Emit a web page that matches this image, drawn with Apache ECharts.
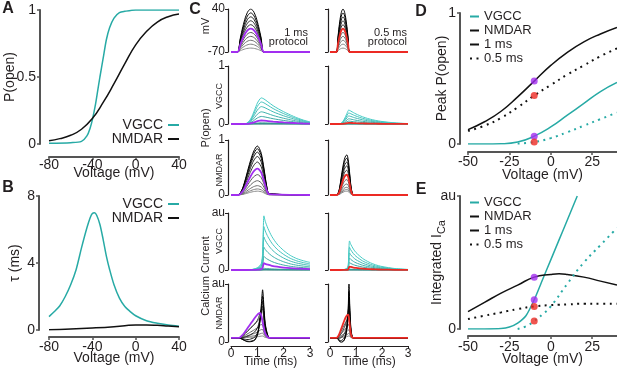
<!DOCTYPE html>
<html>
<head>
<meta charset="utf-8">
<script src="https://cdn.jsdelivr.net/npm/echarts@6/dist/echarts.min.js"></script>
<style>
  html, body { margin: 0; padding: 0; background: #fff; }
  #main { width: 617px; height: 371px; }
</style>
</head>
<body>
<div id="main"></div>
<script>
// ---------- A: steady state open probability ----------
var voltA_vgcc  = [-80,-60,-50,-45,-42,-40,-37,-35,-33,-30,-27,-24,-20,-15,-10,0,20,40];
var popenVgcc   = [0.005,0.01,0.02,0.06,0.12,0.18,0.3,0.4,0.5,0.64,0.78,0.87,0.94,0.98,0.99,1,1,1];
var voltA_nmdar = [-80,-70,-60,-50,-40,-30,-20,-10,0,10,20,30,40];
var popenNmdar  = [0.025,0.04,0.065,0.11,0.19,0.31,0.45,0.6,0.74,0.84,0.91,0.95,0.97];

// ---------- B: time constants ----------
var voltB_vgcc  = [-80,-75,-70,-65,-60,-55,-50,-45,-42,-40,-38,-36,-33,-30,-27,-24,-20,-15,-10,-5,0,10,20,30,40];
var tauVgcc     = [0.8,1.1,1.45,2.0,2.7,3.6,4.9,6.1,6.7,6.95,7.0,6.85,6.3,5.4,4.4,3.6,2.7,1.9,1.4,1.1,0.85,0.55,0.4,0.3,0.23];
var voltB_nmdar = [-80,-60,-40,-20,-10,0,10,20,30,40];
var tauNmdar    = [0.02,0.06,0.12,0.2,0.26,0.3,0.3,0.28,0.24,0.2];

// ---------- C: traces for the voltage steps ----------
var vSteps = [-60,-50,-40,-30,-20,-10,0,10,20,30,40];
var HI = 5; // the -10 mV step is drawn in colour

// voltage pulse shape (fraction of step amplitude)
var tV1     = [0,0.25,0.35,0.45,0.55,0.65,0.75,0.85,0.95,1.05,1.15,1.25,3];
var tV05    = [0,0.25,0.3,0.35,0.4,0.45,0.5,0.55,0.6,0.65,0.7,0.75,3];
var shapeV  = [0,0,0.31,0.59,0.81,0.95,1,0.95,0.81,0.59,0.31,0,0];

// VGCC P(open)
var tG1     = [0,0.5,0.6,0.7,0.8,0.9,1.0,1.1,1.15,1.25,1.4,1.6,1.8,2.0,2.25,2.5,2.75,3];
var shapeG1 = [0,0,0.03,0.12,0.3,0.55,0.8,0.96,1,0.96,0.85,0.7,0.58,0.47,0.35,0.24,0.15,0.08];
var ampG1   = [0,0,0.002,0.006,0.02,0.06,0.13,0.21,0.3,0.38,0.45];
var tG05    = [0,0.35,0.45,0.55,0.65,0.72,0.8,0.9,1.0,1.25,1.5,1.75,2.0,2.5,3];
var shapeG05= [0,0,0.08,0.35,0.75,1,0.93,0.82,0.72,0.52,0.37,0.26,0.18,0.08,0.03];
var ampG05  = [0,0,0,0.002,0.006,0.02,0.05,0.09,0.14,0.19,0.24];

// NMDAR P(open)
var tN1     = [0,0.25,0.35,0.45,0.55,0.65,0.75,0.85,0.95,1.0,1.05,1.15,1.25,1.35,1.45,3];
var shapeN1 = [0,0,0.04,0.15,0.33,0.53,0.72,0.88,0.98,1,0.98,0.85,0.55,0.2,0.03,0];
var ampN1   = [0.07,0.11,0.17,0.26,0.37,0.48,0.6,0.7,0.78,0.84,0.89];
var tN05    = [0,0.25,0.3,0.35,0.4,0.45,0.5,0.55,0.6,0.65,0.7,0.75,0.8,0.85,0.9,3];
var shapeN05= [0,0,0.03,0.12,0.3,0.52,0.72,0.88,0.97,1,0.88,0.58,0.25,0.06,0,0];
var ampN05  = [0.07,0.1,0.14,0.2,0.28,0.37,0.45,0.53,0.6,0.67,0.73];

// VGCC calcium current
var tI1     = [0,0.6,0.8,0.95,1.05,1.15,1.2,1.25,1.3,1.4,1.55,1.75,2.0,2.25,2.5,2.75,3];
var shapeI1 = [0,0,0.01,0.03,0.06,0.12,0.3,1,0.9,0.77,0.62,0.48,0.36,0.27,0.21,0.17,0.14];
var ampI1   = [0,0,0.003,0.01,0.03,0.12,0.24,0.4,0.58,0.76,0.95];
var tI05    = [0,0.4,0.55,0.65,0.7,0.75,0.8,0.9,1.0,1.25,1.5,1.75,2.0,2.5,3];
var shapeI05= [0,0,0.02,0.06,0.15,1,0.88,0.72,0.6,0.4,0.27,0.18,0.12,0.05,0.02];
var ampI05  = [0,0,0,0.004,0.015,0.06,0.13,0.21,0.3,0.4,0.51];

// NMDAR calcium current: slow component, dip and tail spike
var baseC   = 0.07;
var tC1     = [0,0.3,0.4,0.5,0.6,0.7,0.8,0.9,1.0,1.05,1.1,1.15,1.2,1.25,1.3,1.4,1.5,3];
var ramp1   = [0,0,0.08,0.2,0.35,0.5,0.65,0.8,0.93,0.98,1,0.9,0.65,0.38,0.18,0.03,0,0];
var dip1    = [0,0,0.25,0.6,0.9,1,0.85,0.55,0.2,0.05,0,0,0,0,0,0,0,0];
var spike1  = [0,0,0,0,0,0,0,0,0.08,0.2,0.4,0.68,1,0.65,0.3,0.05,0,0];
var rampAmp1  = [0.02,0.05,0.1,0.18,0.3,0.43,0.3,0.15,0.05,0,0];
var dipAmp1   = [0,0,0,0,0,0,0,0.03,0.05,0.06,0.07];
var spikeAmp1 = [0.02,0.05,0.08,0.1,0.1,0,0.3,0.45,0.6,0.72,0.83];
var tC05    = [0,0.25,0.3,0.35,0.4,0.45,0.5,0.55,0.6,0.65,0.7,0.73,0.76,0.8,0.85,0.9,3];
var ramp05  = [0,0,0.05,0.15,0.3,0.45,0.6,0.75,0.88,0.97,1,0.85,0.55,0.2,0.03,0,0];
var dip05   = [0,0,0.2,0.6,0.95,1,0.8,0.45,0.15,0,0,0,0,0,0,0,0];
var spike05 = [0,0,0,0,0,0,0,0,0.05,0.2,0.55,1,0.6,0.2,0.03,0,0];
var rampAmp05  = [0.02,0.05,0.1,0.18,0.3,0.4,0.25,0.12,0.04,0,0];
var dipAmp05   = [0,0,0,0,0,0,0.02,0.04,0.06,0.07,0.08];
var spikeAmp05 = [0.02,0.04,0.06,0.08,0.08,0,0.35,0.5,0.65,0.8,0.93];

// ---------- D: peak open probability ----------
var voltD       = [-50,-40,-30,-20,-10,0,10,20,30,40];
var peakNmdar1  = [0.11,0.17,0.25,0.36,0.48,0.6,0.7,0.78,0.84,0.89];
var peakNmdar05 = [0.1,0.14,0.2,0.28,0.37,0.45,0.53,0.6,0.67,0.73];
var peakVgcc1   = [0,0,0.002,0.015,0.06,0.13,0.22,0.31,0.4,0.47];
var voltD05     = [-20,-10,0,10,20,30,40];
var peakVgcc05  = [0.003,0.015,0.045,0.09,0.14,0.19,0.24];
var dotsD1  = [[-10,0.48],[-10,0.06]];
var dotsD05 = [[-10,0.37],[-10,0.015]];

// ---------- E: integrated calcium current ----------
var voltE_vgcc1 = [-50,-40,-30,-25,-20,-15,-10,-5,0,5,10,16];
var intVgcc1    = [0,0,0.003,0.015,0.045,0.1,0.22,0.37,0.52,0.67,0.82,1.0];
var voltE       = [-50,-40,-30,-20,-10,0,5,10,20,30,40];
var intNmdar1   = [0.13,0.2,0.27,0.33,0.39,0.41,0.415,0.41,0.39,0.36,0.33];
var intNmdar05  = [0.075,0.1,0.125,0.15,0.17,0.18,0.183,0.185,0.19,0.19,0.19];
var voltE_vgcc05= [-20,-15,-10,-5,0,10,20,30,40];
var intVgcc05   = [0,0.02,0.06,0.11,0.17,0.34,0.5,0.63,0.76];
var dotsE1  = [[-10,0.39],[-10,0.22]];
var dotsE05 = [[-10,0.17],[-10,0.06]];

// ---------- styling ----------
var TEAL = '#27aaa5', PURPLE = '#a22ef0', RED = '#ec2a24', INK = '#231f20', AX = '#555555';
var FONT = 'Liberation Sans';
var DOT = [2, 4.5];

var chart = echarts.init(document.getElementById('main'));
var grids = [], xAxes = [], yAxes = [], series = [];

function zip(xs, ys) { return xs.map(function (x, i) { return [x, ys[i]]; }); }
function mix(c1, c2, f) {
  var a = [1,3,5].map(function (k) { return parseInt(c1.substr(k, 2), 16); });
  var b = [1,3,5].map(function (k) { return parseInt(c2.substr(k, 2), 16); });
  return 'rgb(' + a.map(function (v, i) { return Math.round(v + (b[i] - v) * f); }).join(',') + ')';
}
function grayRamp(i) { return mix('#8c8c8c', '#000000', i / 10); }
function tealRamp(i) { return mix('#2e7674', '#46cbc5', i / 10); }

function bigAxes(g, xo) {
  grids.push({ left: g.left, top: g.top, width: g.width, height: g.height, containLabel: false, outerBoundsMode: 'none' });
  var gi = grids.length - 1;
  xAxes.push({
    gridIndex: gi, type: 'value', min: xo.min, max: xo.max, interval: xo.interval, offset: xo.offset,
    axisLine: { show: true, onZero: false, lineStyle: { color: AX, width: 2 } },
    axisTick: { show: true, length: 3, lineStyle: { color: AX, width: 1.5 }, customValues: xo.ticks },
    axisLabel: { color: INK, fontSize: 14, fontFamily: FONT, margin: xo.margin, customValues: xo.ticks },
    splitLine: { show: false },
    name: 'Voltage (mV)', nameLocation: 'middle', nameGap: xo.nameGap, nameMoveOverlap: false,
    nameTextStyle: { color: INK, fontSize: 14, fontFamily: FONT }
  });
  yAxes.push({
    gridIndex: gi, type: 'value', min: g.ymin, max: g.ymax, interval: g.yint, offset: g.yoff,
    axisLine: { show: true, onZero: false, lineStyle: { color: AX, width: 2 } },
    axisTick: { show: true, length: 3, lineStyle: { color: AX, width: 1.5 } },
    axisLabel: { color: INK, fontSize: 14, fontFamily: FONT, margin: 4, formatter: g.fmt },
    splitLine: { show: false },
    name: g.yname, nameLocation: 'middle', nameGap: g.ynameGap, nameMoveOverlap: false,
    nameTextStyle: { color: INK, fontSize: 14, fontFamily: FONT, rich: g.rich }
  });
  return gi;
}

function line(gi, name, data, color, dashed, smooth) {
  series.push({
    type: 'line', name: name, xAxisIndex: gi, yAxisIndex: gi, data: data, symbol: 'none',
    smooth: smooth === undefined ? true : smooth, silent: true,
    lineStyle: { color: color, width: dashed ? 2 : 1.5, type: dashed ? DOT : 'solid' },
    itemStyle: { color: color }
  });
}
function dots(gi, data, color) {
  series.push({
    type: 'scatter', xAxisIndex: gi, yAxisIndex: gi, data: data, symbolSize: 7,
    itemStyle: { color: color }, silent: true, z: 5
  });
}

// A
var gA = bigAxes({ left: 49, top: 10, width: 130, height: 134, ymin: 0, ymax: 1, yint: 0.5, yoff: 9,
                   yname: 'P(open)', ynameGap: 23 },
                 { min: -80, max: 40, interval: 40, offset: 13, margin: 1, nameGap: 9 });
line(gA, 'VGCC', zip(voltA_vgcc, popenVgcc), TEAL, false, 0.3);
line(gA, 'NMDAR', zip(voltA_nmdar, popenNmdar), '#111', false);

// B
var gB = bigAxes({ left: 49, top: 196, width: 130, height: 134, ymin: 0, ymax: 8, yint: 4, yoff: 10,
                   yname: 'τ (ms)', ynameGap: 17 },
                 { min: -80, max: 40, interval: 40, offset: 7, margin: 3, nameGap: 14 });
line(gB, 'VGCC', zip(voltB_vgcc, tauVgcc), TEAL, false, 0.3);
line(gB, 'NMDAR', zip(voltB_nmdar, tauNmdar), '#111', false);

// D
var gD = bigAxes({ left: 468, top: 13, width: 149, height: 131, ymin: 0, ymax: 1, yint: 1, yoff: 8,
                   yname: 'Peak P(open)', ynameGap: 11 },
                 { min: -50, max: 40, interval: 25, offset: 8, margin: 3, nameGap: 16, ticks: [-50,-25,0,25] });
line(gD, 'NMDAR', zip(voltD, peakNmdar1), '#111', false);
line(gD, '0.5 ms', zip(voltD, peakNmdar05), '#111', true);
line(gD, 'VGCC', zip(voltD, peakVgcc1), TEAL, false);
line(gD, 'VGCC 0.5', zip(voltD05, peakVgcc05), TEAL, true);
line(gD, '1 ms', [], '#111', false);
dots(gD, dotsD1, PURPLE);
dots(gD, dotsD05, RED);

// E
var gE = bigAxes({ left: 468, top: 196, width: 149, height: 133, ymin: 0, ymax: 1, yint: 1, yoff: 8,
                   yname: 'Integrated I{s|Ca}', ynameGap: 13,
                   fmt: function (v) { return v === 1 ? 'au' : '0'; },
                   rich: { s: { fontSize: 11, fontFamily: FONT, color: INK, verticalAlign: 'bottom', padding: [9, 0, 0, 0] } } },
                 { min: -50, max: 40, interval: 25, offset: 7, margin: 4, nameGap: 16, ticks: [-50,-25,0,25] });
line(gE, 'VGCC E', zip(voltE_vgcc1, intVgcc1), TEAL, false, 0.2);
line(gE, 'NMDAR E', zip(voltE, intNmdar1), '#111', false);
line(gE, 'NMDAR E 0.5', zip(voltE, intNmdar05), '#111', true);
line(gE, 'VGCC E 0.5', zip(voltE_vgcc05, intVgcc05), TEAL, true);
dots(gE, dotsE1, PURPLE);
dots(gE, dotsE05, RED);

// C grids: 5 rows x 2 columns
var rowsC = [[9, 43, -70, 40, 110], [66, 58, 0, 1, 1], [140, 55, 0, 1, 1], [213, 57, 0, 1, 1], [284, 58, 0, 1, 1]];
var colsC = [[231, 79, 3], [330, 78, 2]];
var gC = [[], []];
colsC.forEach(function (col, ci) {
  rowsC.forEach(function (row, ri) {
    grids.push({ left: col[0], top: row[0], width: col[1], height: row[1], containLabel: false, outerBoundsMode: 'none' });
    var gi = grids.length - 1;
    gC[ci].push(gi);
    var last = ri === 4;
    xAxes.push({
      gridIndex: gi, type: 'value', min: 0, max: 3, interval: 1, show: last, offset: 4,
      axisLine: { show: true, onZero: false, lineStyle: { color: INK, width: 1.2 } },
      axisTick: { show: true, length: 3, lineStyle: { color: INK, width: 1 } },
      axisLabel: { color: INK, fontSize: 12, fontFamily: FONT, margin: 2 },
      splitLine: { show: false },
      name: 'Time (ms)', nameLocation: 'middle', nameGap: 10, nameMoveOverlap: false,
      nameTextStyle: { color: INK, fontSize: 12, fontFamily: FONT }
    });
    yAxes.push({
      gridIndex: gi, type: 'value', min: row[2], max: row[3], interval: row[4], offset: col[2],
      axisLine: { show: true, onZero: false, lineStyle: { color: INK, width: 1.2 } },
      axisTick: { show: true, length: 3, lineStyle: { color: INK, width: 1 } },
      axisLabel: { show: ci === 0, color: INK, fontSize: 12, fontFamily: FONT, margin: 3,
                   formatter: ri >= 3 ? function (v) { return v === 1 ? 'au' : '0'; } : null },
      splitLine: { show: false }
    });
  });
});

function family(gi, valuesFor, hiColor, ramp) {
  var order = [];
  for (var i = 0; i < vSteps.length; i++) if (i !== HI) order.push(i);
  order.push(HI);
  order.forEach(function (i) {
    var hi = i === HI;
    series.push({
      type: 'line', xAxisIndex: gi, yAxisIndex: gi, data: valuesFor(i), symbol: 'none', smooth: 0.25, silent: true,
      lineStyle: { color: hi ? hiColor : ramp(i), width: hi ? 1.8 : 1 }, z: hi ? 4 : 2
    });
  });
}
function scaled(ts, shape, amps, base) {
  return function (i) { return ts.map(function (t, k) { return [t, base + shape[k] * amps[i]]; }); };
}
function voltage(ts) {
  return function (i) { return ts.map(function (t, k) { return [t, -70 + shapeV[k] * (vSteps[i] + 70)]; }); };
}
function nmdaCurrent(ts, ramp, dip, spike, ra, da, sa) {
  return function (i) {
    return ts.map(function (t, k) { return [t, baseC + ramp[k] * ra[i] - dip[k] * da[i] + spike[k] * sa[i]]; });
  };
}

family(gC[0][0], voltage(tV1), PURPLE, grayRamp);
family(gC[1][0], voltage(tV05), RED, grayRamp);
family(gC[0][1], scaled(tG1, shapeG1, ampG1, 0), PURPLE, tealRamp);
family(gC[1][1], scaled(tG05, shapeG05, ampG05, 0), RED, tealRamp);
family(gC[0][2], scaled(tN1, shapeN1, ampN1, 0), PURPLE, grayRamp);
family(gC[1][2], scaled(tN05, shapeN05, ampN05, 0), RED, grayRamp);
family(gC[0][3], scaled(tI1, shapeI1, ampI1, 0), PURPLE, tealRamp);
family(gC[1][3], scaled(tI05, shapeI05, ampI05, 0), RED, tealRamp);
family(gC[0][4], nmdaCurrent(tC1, ramp1, dip1, spike1, rampAmp1, dipAmp1, spikeAmp1), PURPLE, grayRamp);
family(gC[1][4], nmdaCurrent(tC05, ramp05, dip05, spike05, rampAmp05, dipAmp05, spikeAmp05), RED, grayRamp);

// legends (itemHeight 1 keeps the legend symbol dot invisible, leaving only the line)
var legText = { color: INK, fontSize: 14, fontFamily: FONT, lineHeight: 12 };
var legends = [
  { right: 437, top: 118, align: 'right', data: ['VGCC', 'NMDAR'], itemWidth: 11, itemGap: 0, textStyle: legText },
  { right: 437, top: 197, align: 'right', data: ['VGCC', 'NMDAR'], itemWidth: 11, itemGap: 0, textStyle: legText },
  { left: 469, top: 10, data: ['VGCC', 'NMDAR', '1 ms', '0.5 ms'], itemWidth: 9, itemGap: 1,
    textStyle: { color: INK, fontSize: 13, fontFamily: FONT, lineHeight: 12.5 } },
  { left: 469, top: 196, data: ['VGCC', 'NMDAR', '1 ms', '0.5 ms'], itemWidth: 9, itemGap: 1,
    textStyle: { color: INK, fontSize: 13, fontFamily: FONT, lineHeight: 12.5 } }
].map(function (l) {
  return Object.assign({ orient: 'vertical', selectedMode: false, padding: 0, itemHeight: 1,
                         itemStyle: { color: 'rgba(0,0,0,0)', borderWidth: 0 } }, l);
});

// labels
function txt(x, y, s, size, opts) {
  return Object.assign({
    type: 'text', x: x, y: y, silent: true,
    style: Object.assign({ text: s, fill: INK, font: size + 'px "' + FONT + '"', textAlign: 'center', textVerticalAlign: 'middle' },
                         opts && opts.style)
  }, opts && opts.el);
}
var ROT = { el: { rotation: Math.PI / 2 } };
var BOLD = { style: { font: 'bold 16px "' + FONT + '"' } };
var graphics = [
  txt(8, 9, 'A', 16, BOLD), txt(8, 188, 'B', 16, BOLD), txt(195, 10, 'C', 16, BOLD),
  txt(421, 12, 'D', 16, BOLD), txt(421, 190, 'E', 16, BOLD),
  txt(206, 26, 'mV', 11, ROT),
  txt(220, 96, 'VGCC', 9, ROT),
  txt(206, 128, 'P(open)', 11, ROT),
  txt(220, 170, 'NMDAR', 9, ROT),
  txt(206, 276, 'Calcium Current', 11, ROT),
  txt(220, 241, 'VGCC', 9, ROT),
  txt(220, 313, 'NMDAR', 9, ROT),
  txt(308, 33, '1 ms', 11, { style: { textAlign: 'right' } }),
  txt(308, 42, 'protocol', 11, { style: { textAlign: 'right' } }),
  txt(407, 33, '0.5 ms', 11, { style: { textAlign: 'right' } }),
  txt(407, 42, 'protocol', 11, { style: { textAlign: 'right' } })
];

chart.setOption({
  animation: false,
  backgroundColor: '#fff',
  textStyle: { fontFamily: FONT },
  grid: grids,
  xAxis: xAxes,
  yAxis: yAxes,
  legend: legends,
  graphic: graphics,
  series: series
});
</script>
</body>
</html>
